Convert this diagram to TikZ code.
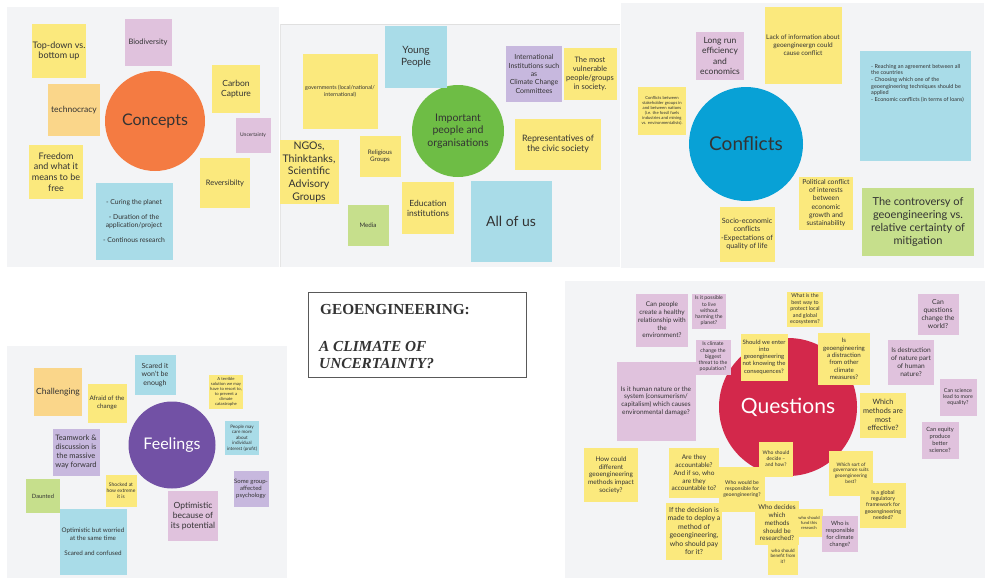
\documentclass[tikz,border=0pt]{standalone}
\usepackage{fontspec}
\setmainfont{Lato}
\newfontfamily\titlefont{Liberation Serif}
\definecolor{bgpanel}{HTML}{F3F4F6}
\definecolor{ynote}{HTML}{FBE97D}
\definecolor{pnote}{HTML}{E0C2DD}
\definecolor{vnote}{HTML}{C7B8DE}
\definecolor{bnote}{HTML}{A9DCE8}
\definecolor{onote}{HTML}{FAD68A}
\definecolor{gnote}{HTML}{C6DF8C}
\definecolor{txt}{HTML}{333333}
\definecolor{cconcepts}{HTML}{F47B42}
\definecolor{cpeople}{HTML}{6EBD45}
\definecolor{cconflicts}{HTML}{08A1D6}
\definecolor{cfeelings}{HTML}{7251A5}
\definecolor{cquestions}{HTML}{D3284B}
\def\nfont#1{\fontsize{#1}{\fpeval{1.2*#1}}\selectfont}
\tikzset{
  fs/.style={font=\nfont{#1}},
  sq/.style={minimum width=#1,minimum height=#1},
  wh/.style 2 args={minimum width=#1,minimum height=#2}
}

\begin{document}
\begin{tikzpicture}[x=1pt,y=-1pt]
\tikzstyle{every node}=[inner sep=0pt,align=center,text=txt]
\tikzstyle{yel}=[fill=ynote]
\tikzstyle{pur}=[fill=pnote]
\tikzstyle{vio}=[fill=vnote]
\tikzstyle{blu}=[fill=bnote]
\tikzstyle{ora}=[fill=onote]
\tikzstyle{gre}=[fill=gnote]
\tikzstyle{hub}=[circle]
\useasboundingbox (0,0) rectangle (987,579);
\fill[white] (0,0) rectangle (987,579);
% panels
\fill[bgpanel] (7,7) rectangle (279,267);
\fill[bgpanel] (280,24) rectangle (620,267);
\draw[black!12] (280,24) -- (620,24);
\draw[black!10] (280,24) -- (280,267);
\fill[bgpanel] (621,3) rectangle (984,268);
\fill[bgpanel] (7,346) rectangle (287,578);
\fill[bgpanel] (565,281) rectangle (985,578);

% concepts
\path
  (155,121) node [hub,fill=cconcepts,sq=100,fs=16] (concepts) {Concepts}
  ( 59, 51) node [yel,sq=54,fs=9]   (topdown) {Top-down vs.\\bottom up}
  (148, 42) node [pur,sq=47,fs=7.5] (biodiv)  {Biodiversity}
  ( 74,110) node [ora,sq=52,fs=8.5] (technoc) {technocracy}
  (236, 89) node [yel,sq=48,fs=8.5] (carbon)  {Carbon\\Capture}
  (253,135) node [pur,sq=35,fs=5]   (uncert)  {Uncertainty}
  ( 56,172) node [yel,sq=54,fs=9]   (freedom) {Freedom\\and what it\\means to be\\free}
  (225,183) node [yel,sq=50,fs=7.5] (revers)  {Reversibilty}
  (134,221) node [blu,sq=77,fs=6.8] (curing)  {- Curing the planet\\[7pt]- Duration of the\\application/project\\[7pt]- Continous research}
;

% people
\path
  (458,131) node [hub,fill=cpeople,sq=92,fs=10.5] (people) {Important\\people and\\organisations}
  (416, 57) node [blu,sq=62,fs=10]        (young)   {Young\\People}
  (340, 91) node [yel,sq=75,fs=5.5]       (govern)  {governments (local/national/\\international)}
  (534, 74) node [vio,sq=56,fs=7]         (intinst) {International\\Institutions such\\as\\Climate Change\\Committees}
  (590, 74) node [yel,wh={53}{52},fs=7.5] (vulner)  {The most\\vulnerable\\people/groups\\in society.}
  (558,144) node [yel,wh={86}{51},fs=8.8] (civic)   {Representatives of\\the civic society}
  (309,172) node [yel,wh={59}{64},fs=10.5] (ngos)   {NGOs,\\Thinktanks,\\Scientific\\Advisory\\Groups}
  (380,156) node [yel,sq=41,fs=6.2]       (relig)   {Religious\\Groups}
  (368,225) node [gre,sq=41,fs=6.2]       (media)   {Media}
  (428,208) node [yel,sq=52,fs=8.5]       (educ)    {Education\\institutions}
  (511,221) node [blu,sq=81,fs=14]        (allofus) {All of us}
;

% conflicts
\path
  (746,144) node [hub,fill=cconflicts,sq=114,fs=19] (conflicts) {Conflicts}
  (720, 56) node [pur,sq=48,fs=8.5]         (longrun)   {Long run\\efficiency\\and\\economics}
  (803, 45) node [yel,sq=77,fs=6.5]         (lackinfo)  {Lack of information about\\geoengineergn could\\cause conflict}
  (662,111) node [yel,sq=48,fs=4.2]         (stakeh)    {Conflicts between\\stakeholder groups in\\and between nations\\(i.e. the fossil fuels\\industries and mining\\vs. environmentalists).}
  (747,234) node [yel,sq=55,fs=7.2]         (socio)     {Socio-economic\\conflicts\\-Expectations of\\quality of life}
  (826,203) node [yel,wh={54}{53},fs=6.8]   (political) {Political conflict\\of interests\\between\\economic\\growth and\\sustainability}
  (915,106) node [blu,wh={111}{110}]        (agree)     {}
  (871, 64) node [anchor=north west,align=left,fs=5.5] (agreetxt) {- Reaching an agreement between all\\the countries\\- Choosing which one of the\\geoengineering techniques should be\\applied\\- Economic conflicts (in terms of loans)}
  (918,222) node [gre,wh={112}{68},fs=11]   (controv)   {The controversy of\\geoengineering vs.\\relative certainty of\\mitigation}
;

% title
\draw[black!65,line width=0.7] (308,292) rectangle (526,377);
\path[font=\titlefont\bfseries\fontsize{15.3}{18}\selectfont]
  (320,314) node [anchor=base west] (title1) {GEOENGINEERING:}
  (319,351) node [anchor=base west] (title2) {\itshape A CLIMATE OF}
  (319,368) node [anchor=base west] (title3) {\itshape UNCERTAINTY?}
;

% feelings
\path
  (172,445) node [hub,fill=cfeelings,sq=87,fs=16,text=white] (feelings) {Feelings}
  ( 58,392) node [ora,sq=48,fs=8.5]       (challeng) {Challenging}
  (107,403) node [yel,sq=39,fs=6.3]       (afraid)   {Afraid of the\\change}
  (155,375) node [blu,wh={41}{40},fs=7]   (scared)   {Scared it\\won't be\\enough}
  (226,392) node [yel,sq=34,fs=4.2]       (terrible) {A terrible\\solution we may\\have to resort to,\\to prevent a\\climate\\catastrophe}
  ( 76,452) node [vio,sq=47,fs=7.5]       (teamwork) {Teamwork \&\\discussion is\\the massive\\way forward}
  (242,438) node [blu,sq=34,fs=4.6]       (profit)   {People may\\care more\\about\\individual\\interest (profit)}
  ( 43,496) node [gre,sq=34,fs=5.8]       (daunted)  {Daunted}
  (121,491) node [yel,wh={31}{32},fs=5]   (shocked)  {Shocked at\\how extreme\\it is}
  (251,489) node [vio,wh={35}{36},fs=6]   (groupaff) {Some group-\\affected\\psychology}
  (193,516) node [pur,sq=50,fs=8.5]       (optpot)   {Optimistic\\because of\\its potential}
  ( 93,542) node [blu,wh={67}{66},fs=6.3] (optworr)  {Optimistic but worried\\at the same time\\[8pt]Scared and confused}
;

% questions
\path
  (788,407) node [hub,fill=cquestions,sq=138,fs=21,text=white] (questions) {Questions}
  (662,320) node [pur,wh={52}{53},fs=6.5] (healthy)    {Can people\\create a healthy\\relationship with\\the\\environment?}
  (709,311) node [pur,wh={34}{35},fs=5.2] (possible)   {Is it possible\\to live\\without\\harming the\\planet?}
  (713,357) node [pur,sq=35,fs=5.2]       (biggest)    {Is climate\\change the\\biggest\\threat to the\\population?}
  (656,401) node [pur,sq=79,fs=6.5]       (humnat)     {Is it human nature or the\\system (consumerism/\\capitalism) which causes\\environmental damage?}
  (805,309) node [yel,wh={36}{35},fs=5.4] (ecosys)     {What is the\\best way to\\protect local\\and global\\ecosystems?}
  (764,357) node [yel,sq=47,fs=6]         (enter)      {Should we enter\\into\\geoengineering\\not knowing the\\consequences?}
  (844,359) node [yel,sq=52,fs=6.2]       (distract)   {Is\\geoengineering\\a distraction\\from other\\climate\\measures?}
  (938,314) node [pur,sq=41,fs=6.8]       (canquest)   {Can\\questions\\change the\\world?}
  (911,362) node [pur,wh={46}{45},fs=6.6] (destruct)   {Is destruction\\of nature part\\of human\\nature?}
  (958,397) node [pur,sq=37,fs=5.4]       (science)    {Can science\\lead to more\\equality?}
  (883,415) node [yel,wh={46}{45},fs=7.3] (methods)    {Which\\methods are\\most\\effective?}
  (940,440) node [pur,sq=37,fs=5.8]       (equity)     {Can equity\\produce\\better\\science?}
  (611,475) node [yel,sq=54,fs=6.5]       (impact)     {How could\\different\\geoengineering\\methods impact\\society?}
  (694,473) node [yel,sq=50,fs=6.5]       (accnt)      {Are they\\accountable?\\And if so, who\\are they\\accountable to?}
  (776,459) node [yel,wh={34}{35},fs=5]   (decide)     {Who should\\decide --\\and how?}
  (742,489) node [yel,wh={46}{45},fs=5.2] (respgeo)    {Who would be\\responsible for\\geoengineering?}
  (694,531) node [yel,wh={56}{57},fs=7]   (pay)        {If the decision is\\made to deploy a\\method of\\geoengineering,\\who should pay\\for it?}
  (783,556) node [yel,wh={30}{38},fs=4.6] (benefit)    {who should\\benefit from\\it?}
  (777,523) node [yel,sq=44,fs=6.5]       (whodec)     {Who decides\\which\\methods\\should be\\researched?}
  (809,523) node [yel,wh={27}{28},fs=4.2] (fund)       {who should\\fund this\\research}
  (840,534) node [pur,sq=36,fs=5.8]       (respcl)     {Who is\\responsible\\for climate\\change?}
  (851,473) node [yel,wh={44}{45},fs=4.8] (governance) {Which sort of\\governance suits\\geoengineering\\best?}
  (883,505) node [yel,wh={46}{45},fs=5.4] (framework)  {Is a global\\regulatory\\framework for\\geoengineering\\needed?}
;
\end{tikzpicture}
\end{document}
